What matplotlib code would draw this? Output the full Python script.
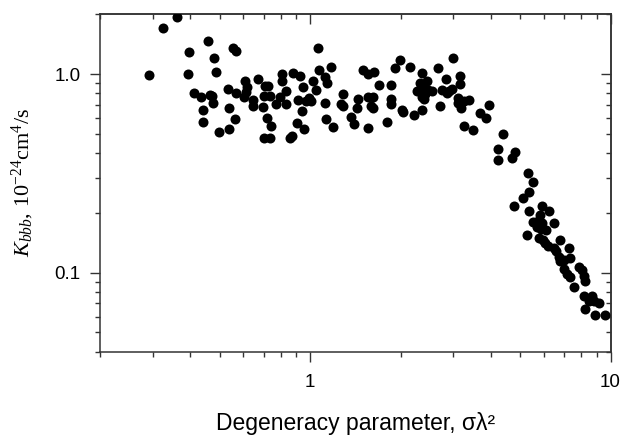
import matplotlib

matplotlib.use("Agg")

import matplotlib.pyplot as plt
import numpy as np
from matplotlib.ticker import FixedLocator, FixedFormatter, LogLocator, NullFormatter

# degeneracy parameter sigma*lambda^2 and K_bbb (1e-24 cm^4/s)
sigma_lambda2 = [
    0.291, 0.324, 0.360, 0.394, 0.391, 0.459, 0.479, 0.487, 0.552, 0.568,
    0.411, 0.434, 0.463, 0.471, 0.476, 0.441, 0.441, 0.496, 0.538, 0.538,
    0.563, 0.535, 0.567, 0.607, 0.617, 0.612, 0.603, 0.644, 0.646, 0.672,
    0.697, 0.706, 0.726, 0.705, 0.734, 0.719, 0.743, 0.704, 0.734, 0.770,
    0.805, 0.807, 0.794, 0.832, 0.832, 0.858, 0.869, 0.880, 0.924, 0.903,
    0.914, 0.946, 0.938, 0.955, 0.970, 0.992, 1.008, 1.026, 1.059, 1.070,
    1.047, 1.122, 1.139, 1.175, 1.122, 1.131, 1.196, 1.288, 1.269, 1.291,
    1.367, 1.398, 1.449, 1.438, 1.505, 1.564, 1.628, 1.564, 1.626, 1.594,
    1.618, 1.558, 1.698, 1.806, 1.858, 1.858, 1.862, 1.920, 1.985, 2.022,
    2.031, 2.149, 2.225, 2.268, 2.357, 2.366, 2.326, 2.449, 2.375, 2.460,
    2.544, 2.357, 2.399, 2.417, 2.657, 2.713, 2.840, 2.748, 2.891, 2.855,
    2.967, 2.981, 3.146, 3.155, 3.097, 3.097, 3.243, 3.370, 3.174, 3.261,
    3.488, 3.687, 3.837, 3.929, 4.375, 4.211, 4.217, 4.823, 4.713, 5.302,
    5.508, 5.342, 5.109, 4.775, 5.350, 5.902, 6.237, 5.843, 5.768, 5.516,
    5.920, 5.697, 6.119, 6.471, 5.875, 5.278, 5.768, 5.966, 6.072, 6.189,
    6.812, 6.471, 6.607, 7.261, 6.725, 6.776, 6.987, 7.356, 6.987, 7.172,
    7.356, 7.840, 8.048, 8.147, 8.254, 7.545, 8.147, 8.690, 8.467, 8.797,
    9.141, 8.254, 8.845, 9.550,
]
k_bbb = [
    0.985, 1.714, 1.943, 1.286, 1.000, 1.463, 1.200, 1.026, 1.356, 1.310,
    0.800, 0.769, 0.782, 0.775, 0.719, 0.659, 0.571, 0.512, 0.530, 0.672,
    0.594, 0.845, 0.804, 0.922, 0.865, 0.815, 0.769, 0.740, 0.690, 0.944,
    0.680, 0.870, 0.870, 0.780, 0.780, 0.604, 0.549, 0.479, 0.479, 0.704,
    0.922, 1.000, 0.766, 0.823, 0.704, 0.478, 0.490, 1.012, 0.977, 0.570,
    0.738, 0.857, 0.655, 0.527, 0.736, 0.757, 0.731, 0.920, 1.347, 1.044,
    0.831, 0.966, 0.898, 1.088, 0.712, 0.592, 0.539, 0.791, 0.705, 0.690,
    0.610, 0.560, 0.751, 0.671, 1.051, 1.000, 1.027, 0.769, 0.769, 0.692,
    0.672, 0.533, 0.880, 0.575, 0.880, 0.748, 0.709, 1.078, 1.176, 0.663,
    0.644, 1.081, 0.622, 0.826, 1.015, 0.659, 0.898, 0.925, 0.838, 0.831,
    0.821, 0.763, 0.746, 0.790, 1.072, 0.688, 0.942, 0.831, 0.821, 0.800,
    0.838, 1.200, 0.977, 0.888, 0.762, 0.717, 0.734, 0.740, 0.675, 0.547,
    0.524, 0.634, 0.602, 0.698, 0.498, 0.418, 0.369, 0.404, 0.376, 0.316,
    0.287, 0.254, 0.239, 0.217, 0.204, 0.216, 0.204, 0.195, 0.184, 0.179,
    0.177, 0.170, 0.164, 0.178, 0.165, 0.154, 0.149, 0.146, 0.141, 0.137,
    0.146, 0.133, 0.128, 0.133, 0.120, 0.114, 0.116, 0.118, 0.104, 0.099,
    0.095, 0.107, 0.103, 0.096, 0.091, 0.085, 0.076, 0.076, 0.072, 0.072,
    0.070, 0.066, 0.061, 0.061,
]

x_ticks = [1, 10]
x_ticklabels = ["1", "10"]
y_ticks = [0.1, 1.0]
y_ticklabels = ["0.1", "1.0"]

plt.rcParams["font.family"] = ["Liberation Sans", "DejaVu Sans"]
plt.rcParams["mathtext.fontset"] = "custom"
plt.rcParams["mathtext.rm"] = "Liberation Serif"
plt.rcParams["mathtext.it"] = "Liberation Serif:italic"

spine_color = "#333333"

fig = plt.figure(figsize=(6.24, 4.37), dpi=100)
ax = fig.add_axes([0.1603, 0.1952, 0.8181, 0.7721])

ax.scatter(sigma_lambda2, k_bbb, s=52, color="black", linewidths=0, zorder=3)

ax.set_xscale("log")
ax.set_yscale("log")
ax.set_xlim(0.2, 10)
ax.set_ylim(0.04, 2.0)

for axis, ticks, labels in ((ax.xaxis, x_ticks, x_ticklabels), (ax.yaxis, y_ticks, y_ticklabels)):
    axis.set_major_locator(FixedLocator(ticks))
    axis.set_major_formatter(FixedFormatter(labels))
    axis.set_minor_locator(LogLocator(base=10, subs=np.arange(2, 10)))
    axis.set_minor_formatter(NullFormatter())

for side in ax.spines.values():
    side.set_color(spine_color)
    side.set_linewidth(1.1)

ax.tick_params(which="major", direction="out", length=7.2, width=1.0, color=spine_color)
ax.tick_params(which="minor", direction="out", length=3.6, width=1.0, color=spine_color)
ax.tick_params(axis="y", labelsize=13.5, pad=7)
ax.tick_params(axis="x", labelsize=13.5, pad=9)

# inward ticks on the top and right frame
top = ax.secondary_xaxis("top")
right = ax.secondary_yaxis("right")
for sec, axis, ticks in ((top, top.xaxis, x_ticks), (right, right.yaxis, y_ticks)):
    axis.set_major_locator(FixedLocator(ticks))
    axis.set_minor_locator(LogLocator(base=10, subs=np.arange(2, 10)))
    axis.set_major_formatter(NullFormatter())
    axis.set_minor_formatter(NullFormatter())
    sec.tick_params(which="major", direction="in", length=7.2, width=1.0, color=spine_color)
    sec.tick_params(which="minor", direction="in", length=3.6, width=1.0, color=spine_color)
    for side in sec.spines.values():
        side.set_color(spine_color)
        side.set_linewidth(1.1)

ax.set_xlabel("Degeneracy parameter, σλ²", fontsize=16.5)
ax.xaxis.set_label_coords(0.5, -0.18)
ax.set_ylabel(r"$K_{bbb}$, 10$^{-24}$cm$^{4}$/s", fontsize=16, family="Liberation Serif")
ax.yaxis.set_label_coords(-0.125, 0.5)

fig.savefig("out.png", dpi=100)
